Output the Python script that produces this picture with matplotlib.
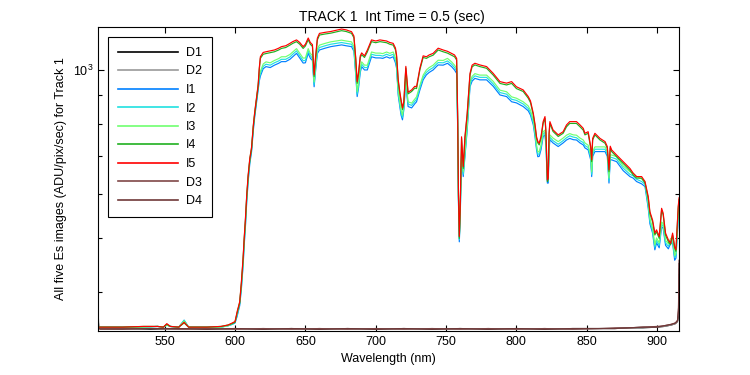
import matplotlib
matplotlib.use("Agg")
import matplotlib.pyplot as plt
from matplotlib.ticker import FixedLocator, FixedFormatter, NullFormatter

plt.rcParams['font.family'] = ['Liberation Sans', 'DejaVu Sans']
plt.rcParams['mathtext.default'] = 'regular'

# wavelength grid (nm) for the five Es images
wl = [502.6, 505, 520, 535, 545, 549, 551.5, 554, 560, 563.8,
      567, 580, 590, 595, 598, 600, 601.5, 603.3, 604.5, 605.7,
      606.5, 607.4, 608.3, 609.3, 610.5, 611.7, 613, 614, 615.2, 616.4,
      617.2, 618, 620, 622, 625, 628, 631, 633, 636, 639,
      641, 643.7, 646, 648.4, 650, 652, 653.5, 655, 656.2, 657.3,
      658.5, 660, 664, 668, 672, 675.7, 679, 682.8, 684.5, 685.8,
      686.8, 687.8, 689, 690, 692, 694, 697, 700, 703, 705,
      707.7, 710, 712.4, 714, 714.8, 716, 717.1, 718, 719, 720,
      721.4, 722.2, 723, 725.5, 727.8, 729, 731.4, 733.7, 736, 738,
      740.8, 743.1, 744.4, 747.9, 751, 753.9, 756, 757.5, 758.2, 758.8,
      759.4, 760, 761, 762.2, 763.4, 765, 767, 768.5, 770.5, 774,
      778.8, 783.5, 788.3, 793, 796.6, 800, 804.8, 808.4, 810, 812,
      813.2, 814.3, 815.2, 816.2, 817.5, 819, 820.3, 821, 822, 822.6,
      823.2, 823.8, 826, 829.7, 833.2, 835.6, 837.9, 840.4, 842.7, 845.2,
      847.5, 848.7, 851, 852.8, 853.5, 854.2, 855.8, 859.4, 863, 864.6,
      865.8, 866.7, 867.7, 871.2, 875.9, 880.7, 883, 885.4, 889, 891.4,
      893.7, 894.9, 896.8, 898.4, 899.6, 901.5, 903.2, 904.3, 906, 908,
      909.6, 911, 912.5, 913.4, 914.2, 915, 915.6]

I1 = [346, 346, 346, 346, 347, 346, 349, 347, 346, 356,
      346, 346, 346, 348, 350, 352, 362, 378, 405, 445,
      485, 525, 580, 630, 680, 712, 780, 825, 870, 920,
      955, 975, 1005, 1014, 1010, 1020, 1028, 1035, 1035, 1045,
      1056, 1071, 1050, 1029, 1030, 1071, 1050, 1040, 933, 1000,
      1070, 1086, 1094, 1101, 1105, 1109, 1105, 1101, 1080, 980,
      896, 930, 990, 1014, 1000, 1000, 1056, 1051, 1051, 1049,
      1056, 1050, 1056, 1030, 1008, 900, 860, 830, 814, 850,
      960, 900, 860, 855, 870, 877, 921, 960, 980, 990,
      1000, 1014, 1021, 1020, 1028, 1014, 1000, 986, 800, 580,
      492, 540, 700, 644, 700, 780, 933, 955, 966, 960,
      960, 935, 902, 896, 877, 873, 860, 845, 830, 797,
      760, 720, 699, 700, 720, 760, 765, 730, 627, 627,
      720, 750, 740, 729, 740, 749, 754, 750, 749, 740,
      734, 725, 719, 690, 644, 700, 714, 714, 714, 700,
      627, 690, 690, 685, 660, 644, 640, 631, 625, 618,
      565, 530, 510, 476, 490, 480, 524, 520, 485, 478,
      489, 490, 456, 460, 500, 540, 555]

I2 = [346, 346, 346, 346, 347, 346, 349, 347, 346, 356,
      346, 346, 346, 348, 350, 353, 364, 381, 409, 449,
      490, 530, 586, 636, 687, 719, 788, 833, 879, 929,
      965, 985, 1015, 1024, 1020, 1030, 1038, 1045, 1045, 1055,
      1067, 1082, 1061, 1039, 1040, 1082, 1061, 1050, 942, 1010,
      1081, 1097, 1105, 1112, 1116, 1120, 1116, 1112, 1091, 990,
      905, 939, 1000, 1024, 1010, 1010, 1067, 1062, 1062, 1059,
      1067, 1061, 1067, 1040, 1018, 909, 869, 838, 822, 859,
      970, 909, 869, 864, 879, 886, 930, 970, 990, 1000,
      1010, 1024, 1031, 1030, 1038, 1024, 1010, 996, 808, 586,
      497, 545, 707, 650, 707, 788, 942, 965, 976, 970,
      970, 944, 911, 905, 886, 882, 869, 853, 838, 805,
      768, 727, 706, 707, 727, 768, 773, 737, 633, 633,
      727, 758, 747, 736, 747, 756, 762, 758, 756, 747,
      741, 732, 726, 697, 650, 707, 721, 721, 721, 707,
      633, 697, 697, 692, 667, 650, 646, 637, 631, 624,
      571, 535, 515, 481, 495, 485, 529, 525, 490, 483,
      494, 495, 461, 465, 505, 545, 561]

I3 = [346, 346, 346, 346, 347, 346, 349, 347, 346, 355,
      346, 346, 346, 348, 351, 354, 366, 384, 412, 453,
      494, 535, 591, 642, 693, 726, 795, 841, 887, 938,
      974, 994, 1025, 1034, 1030, 1040, 1048, 1056, 1056, 1066,
      1077, 1092, 1071, 1050, 1051, 1092, 1071, 1061, 952, 1020,
      1091, 1108, 1116, 1123, 1127, 1131, 1127, 1123, 1102, 1000,
      914, 949, 1010, 1034, 1020, 1020, 1077, 1072, 1072, 1070,
      1077, 1071, 1077, 1051, 1028, 918, 877, 847, 830, 867,
      979, 918, 877, 872, 887, 895, 939, 979, 1000, 1010,
      1020, 1034, 1041, 1040, 1049, 1034, 1020, 1006, 816, 592,
      502, 551, 714, 657, 714, 796, 952, 974, 985, 979,
      979, 954, 920, 914, 895, 890, 877, 862, 847, 813,
      775, 734, 713, 714, 734, 775, 780, 745, 640, 640,
      734, 765, 755, 744, 755, 764, 769, 765, 764, 755,
      749, 740, 733, 704, 657, 714, 728, 728, 728, 714,
      640, 704, 704, 699, 673, 657, 653, 644, 638, 630,
      576, 541, 520, 486, 500, 490, 534, 530, 495, 488,
      499, 500, 465, 469, 510, 551, 566]

I4 = [346, 346, 346, 347, 347, 346, 350, 347, 346, 352,
      346, 346, 347, 349, 351, 353, 367, 382, 414, 457,
      497, 539, 593, 643, 690, 720, 791, 835, 884, 933,
      1000, 1049, 1067, 1070, 1074, 1078, 1086, 1093, 1097, 1108,
      1116, 1124, 1112, 1093, 1104, 1133, 1112, 1102, 973, 1052,
      1132, 1155, 1160, 1164, 1170, 1176, 1172, 1163, 1142, 1043,
      946, 983, 1053, 1065, 1053, 1077, 1124, 1119, 1124, 1122,
      1119, 1112, 1108, 1087, 1056, 953, 908, 878, 849, 874,
      1008, 953, 906, 915, 928, 926, 1001, 1053, 1049, 1056,
      1063, 1078, 1086, 1078, 1072, 1063, 1056, 1042, 836, 596,
      499, 556, 754, 666, 754, 830, 979, 1013, 1021, 1014,
      1007, 979, 946, 940, 946, 926, 915, 890, 874, 830,
      794, 754, 740, 734, 755, 802, 819, 770, 631, 636,
      765, 802, 776, 760, 770, 791, 802, 802, 802, 791,
      780, 765, 770, 724, 685, 749, 765, 749, 739, 724,
      657, 725, 714, 699, 680, 661, 648, 640, 640, 627,
      589, 553, 534, 506, 513, 499, 561, 550, 506, 492,
      486, 506, 479, 473, 516, 565, 586]

I5 = [346, 346, 346, 347, 347, 346, 351, 347, 346, 353,
      346, 346, 347, 349, 352, 354, 369, 384, 417, 460,
      500, 543, 597, 648, 695, 725, 797, 841, 890, 940,
      1007, 1056, 1075, 1078, 1082, 1086, 1094, 1101, 1105, 1116,
      1124, 1132, 1120, 1101, 1112, 1141, 1120, 1110, 980, 1060,
      1140, 1163, 1168, 1172, 1178, 1184, 1180, 1171, 1150, 1050,
      953, 990, 1060, 1073, 1060, 1085, 1132, 1127, 1132, 1130,
      1127, 1120, 1116, 1095, 1064, 960, 914, 884, 855, 880,
      1015, 960, 912, 921, 935, 933, 1008, 1060, 1056, 1064,
      1071, 1086, 1094, 1086, 1080, 1071, 1064, 1049, 842, 600,
      503, 560, 759, 671, 759, 836, 986, 1020, 1028, 1021,
      1014, 986, 953, 947, 953, 933, 921, 896, 880, 836,
      800, 759, 745, 739, 760, 808, 825, 775, 635, 640,
      770, 808, 781, 765, 775, 797, 808, 808, 808, 797,
      786, 770, 775, 729, 690, 754, 770, 754, 744, 729,
      662, 730, 719, 704, 685, 666, 653, 644, 644, 631,
      593, 557, 538, 510, 517, 503, 565, 554, 510, 496,
      489, 510, 482, 476, 520, 569, 590]

# dark frames
wl_dark = [502.6, 503.2, 504, 520, 540, 560, 580, 600, 620, 640,
           660, 680, 700, 720, 740, 760, 780, 800, 820, 840,
           860, 870, 880, 890, 900, 905, 910, 913, 914.5, 915.2,
           915.6]
D1 = [360, 345, 344, 344, 343, 344, 343, 344, 343, 344,
      343, 344, 343, 344, 343, 344, 343, 344, 343, 344,
      344, 344, 345, 345, 346, 347, 349, 351, 354, 362,
      430]
D2 = [370, 346, 344, 343, 344, 343, 344, 343, 344, 343,
      344, 343, 344, 343, 344, 343, 344, 343, 344, 343,
      344, 344, 345, 346, 346, 347, 349, 351, 355, 365,
      440]
D3 = [345, 344, 344, 344, 344, 343, 344, 343, 344, 343,
      344, 343, 344, 343, 344, 343, 344, 343, 344, 343,
      344, 345, 345, 346, 347, 348, 350, 352, 356, 375,
      456]
D4 = [344, 344, 343, 343, 344, 344, 343, 344, 343, 344,
      343, 344, 343, 344, 343, 344, 343, 344, 343, 344,
      344, 344, 345, 346, 346, 348, 350, 352, 355, 370,
      450]

fig = plt.figure(figsize=(7.5, 3.75), dpi=100)
ax = fig.add_axes([0.1307, 0.1173, 0.7747, 0.8107])

lw = 0.85
ax.plot(wl_dark, D1, color='#000000', lw=lw, label='D1')
ax.plot(wl_dark, D2, color='#999999', lw=lw, label='D2')
ax.plot(wl, I1, color='#0080ff', lw=lw, label='I1')
ax.plot(wl, I2, color='#20e0e0', lw=lw, label='I2')
ax.plot(wl, I3, color='#70ff70', lw=lw, label='I3')
ax.plot(wl, I4, color='#20b020', lw=lw, label='I4')
ax.plot(wl, I5, color='#ff0000', lw=lw, label='I5')
ax.plot(wl_dark, D3, color='#804848', lw=lw, label='D3')
ax.plot(wl_dark, D4, color='#703838', lw=lw, label='D4')

ax.set_yscale('log')
ax.set_xlim(502.6, 915.6)
ax.set_ylim(340.5, 1194)

ax.set_xticks([550, 600, 650, 700, 750, 800, 850, 900])
ax.yaxis.set_major_locator(FixedLocator([1000]))
ax.yaxis.set_major_formatter(FixedFormatter([r'$10^{3}$']))
ax.yaxis.set_minor_locator(FixedLocator([400, 500, 600, 700, 800, 900]))
ax.yaxis.set_minor_formatter(NullFormatter())

ax.tick_params(which='both', direction='in', top=True, right=True,
               labelsize=9, width=0.8)
ax.tick_params(which='major', length=4.5)
ax.tick_params(which='minor', length=3)
for s in ax.spines.values():
    s.set_linewidth(0.8)

ax.set_title('TRACK 1  Int Time = 0.5 (sec)', fontsize=10, pad=4, x=0.505)
ax.set_xlabel('Wavelength (nm)', fontsize=9)
ax.set_ylabel('All five Es images (ADU/pix/sec) for Track 1', fontsize=9)

leg = ax.legend(loc='upper left', fontsize=9, handlelength=4.8,
                labelspacing=0.52, handletextpad=0.64, borderpad=0.8,
                borderaxespad=0.8, fancybox=False, framealpha=1)
leg.get_frame().set_edgecolor('black')
leg.get_frame().set_linewidth(0.8)
for h in leg.get_lines():
    h.set_linewidth(1.2)

fig.savefig('out.png', dpi=100)
